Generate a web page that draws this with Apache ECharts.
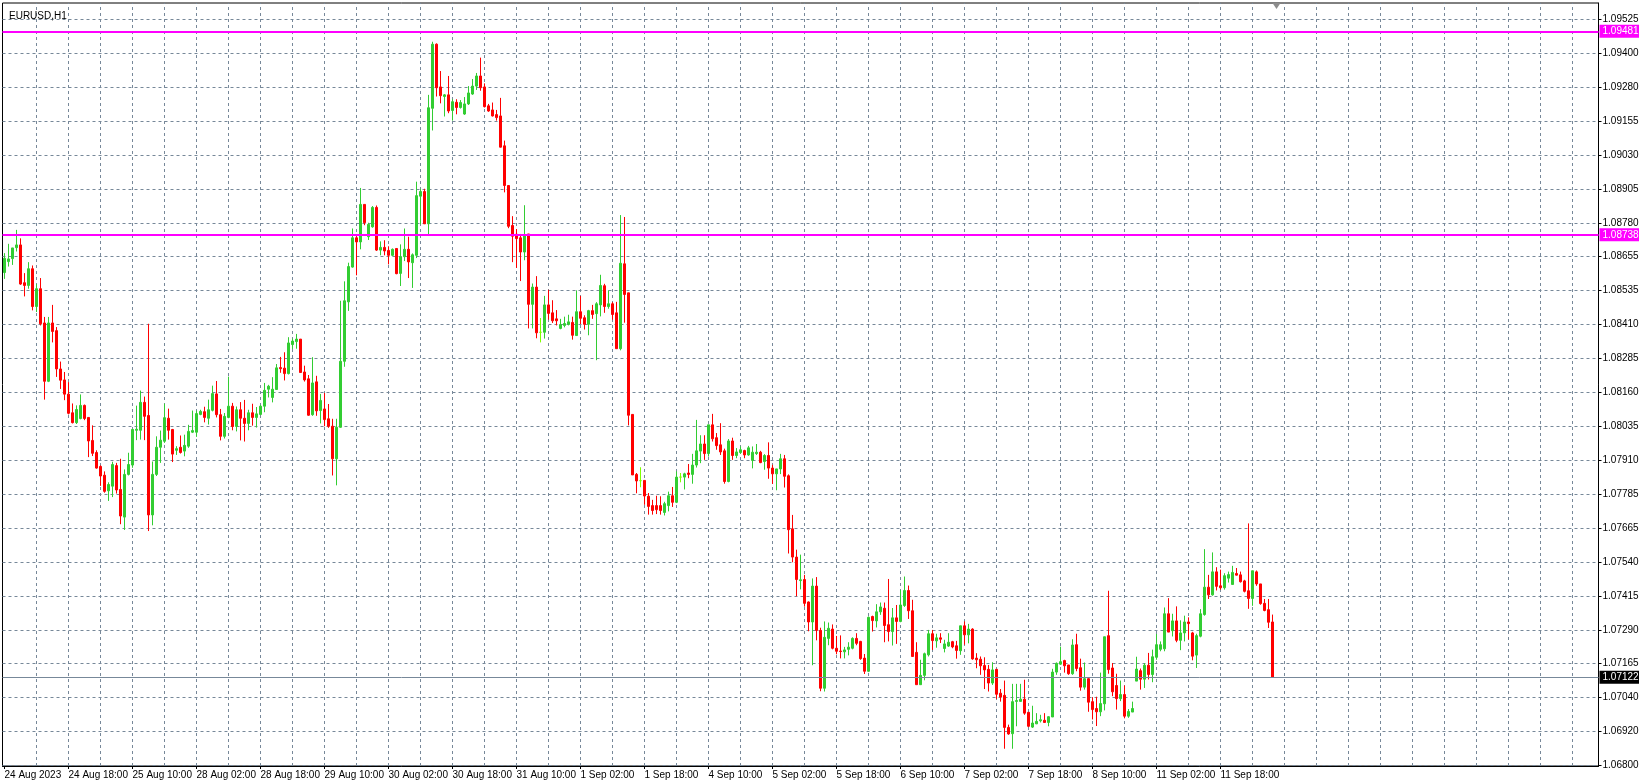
<!DOCTYPE html>
<html><head><meta charset="utf-8">
<script src="https://cdn.jsdelivr.net/npm/echarts@6/dist/echarts.min.js"></script>
<style>html,body{margin:0;padding:0;background:#fff}#c{width:1639px;height:784px}</style>
</head><body><div id="c"></div>
<script>
const chartTitle = 'EURUSD,H1';
const timeLabels = ['24 Aug 2023','24 Aug 18:00','25 Aug 10:00','28 Aug 02:00','28 Aug 18:00','29 Aug 10:00','30 Aug 02:00','30 Aug 18:00','31 Aug 10:00','1 Sep 02:00','1 Sep 18:00','4 Sep 10:00','5 Sep 02:00','5 Sep 18:00','6 Sep 10:00','7 Sep 02:00','7 Sep 18:00','8 Sep 10:00','11 Sep 02:00','11 Sep 18:00'];
const priceTicks = ['1.09525','1.09400','1.09280','1.09155','1.09030','1.08905','1.08780','1.08655','1.08535','1.08410','1.08285','1.08160','1.08035','1.07910','1.07785','1.07665','1.07540','1.07415','1.07290','1.07165','1.07040','1.06920','1.06800'];
const levelLines = [1.09481, 1.08738];
const bidPrice = 1.07122;

const opens = [1.08600,1.08640,1.08651,1.08691,1.08701,1.08563,1.08553,1.08614,1.08476,1.08541,
1.08416,1.08203,1.08416,1.08388,1.08248,1.08208,1.08156,1.08088,1.08052,1.08067,
1.08115,1.08071,1.07987,1.07943,1.07892,1.07860,1.07803,1.07820,1.07895,1.07808,
1.07707,1.07863,1.07897,1.08024,1.08024,1.08126,1.08078,1.07715,1.07863,1.07962,
1.07984,1.08068,1.08027,1.07951,1.07962,1.07948,1.07966,1.08017,1.08017,1.08082,
1.08092,1.08068,1.08097,1.08157,1.08081,1.08002,1.08071,1.08112,1.08038,1.08099,
1.08068,1.08049,1.08088,1.08071,1.08082,1.08112,1.08174,1.08144,1.08173,1.08253,
1.08251,1.08231,1.08337,1.08348,1.08357,1.08237,1.08212,1.08081,1.08201,1.08096,
1.08102,1.08066,1.08039,1.07920,1.08035,1.08276,1.08493,1.08620,1.08727,1.08712,
1.08849,1.08731,1.08767,1.08838,1.08682,1.08692,1.08681,1.08663,1.08688,1.08597,
1.08658,1.08685,1.08636,1.08663,1.08879,1.08896,1.08778,1.09200,1.09434,1.09278,
1.09243,1.09249,1.09192,1.09222,1.09203,1.09179,1.09216,1.09252,1.09281,1.09318,
1.09278,1.09209,1.09194,1.09177,1.09172,1.09063,1.08918,1.08772,1.08740,1.08727,
1.08675,1.08741,1.08484,1.08547,1.08382,1.08382,1.08482,1.08453,1.08431,1.08396,
1.08407,1.08411,1.08418,1.08370,1.08457,1.08435,1.08411,1.08461,1.08450,1.08482,
1.08552,1.08476,1.08486,1.08453,1.08322,1.08632,1.08526,1.08082,1.07863,1.07840,
1.07841,1.07783,1.07749,1.07749,1.07749,1.07724,1.07749,1.07785,1.07761,1.07853,
1.07853,1.07868,1.07863,1.07897,1.07948,1.07974,1.07939,1.08044,1.07997,1.07971,
1.07949,1.07837,1.07985,1.07932,1.07943,1.07950,1.07934,1.07914,1.07939,1.07944,
1.07910,1.07932,1.07886,1.07865,1.07883,1.07920,1.07858,1.07664,1.07561,1.07475,
1.07479,1.07397,1.07324,1.07455,1.07293,1.07082,1.07264,1.07298,1.07228,1.07218,
1.07215,1.07224,1.07228,1.07264,1.07253,1.07192,1.07144,1.07344,1.07328,1.07361,
1.07374,1.07314,1.07289,1.07339,1.07326,1.07384,1.07439,1.07365,1.07213,1.07095,
1.07129,1.07204,1.07281,1.07255,1.07266,1.07227,1.07236,1.07252,1.07237,1.07219,
1.07310,1.07277,1.07298,1.07192,1.07188,1.07165,1.07151,1.07101,1.07151,1.07064,
1.07056,1.06939,1.06916,1.07034,1.07034,1.07042,1.06994,1.06940,1.06952,1.06963,
1.06965,1.06957,1.06977,1.07141,1.07170,1.07183,1.07167,1.07135,1.07241,1.07157,
1.07086,1.07117,1.07033,1.07008,1.06996,1.07025,1.07274,1.07156,1.07092,1.07044,
1.07059,1.06980,1.06995,1.07108,1.07146,1.07115,1.07166,1.07132,1.07195,1.07224,
1.07226,1.07354,1.07292,1.07328,1.07257,1.07284,1.07324,1.07284,1.07203,1.07272,
1.07351,1.07451,1.07423,1.07507,1.07456,1.07449,1.07484,1.07461,1.07501,1.07496,
1.07474,1.07438,1.07410,1.07507,1.07463,1.07392,1.07369,1.07324];

const highs = [1.08671,1.08705,1.08690,1.08756,1.08725,1.08598,1.08638,1.08626,1.08558,1.08580,
1.08438,1.08438,1.08482,1.08401,1.08275,1.08237,1.08200,1.08122,1.08115,1.08155,
1.08118,1.08071,1.08042,1.07951,1.07896,1.07874,1.07834,1.07909,1.07905,1.07920,
1.07881,1.07942,1.08029,1.08114,1.08169,1.08147,1.08413,1.07910,1.08002,1.08023,
1.08121,1.08103,1.08029,1.07966,1.08005,1.08008,1.08044,1.08096,1.08096,1.08099,
1.08110,1.08136,1.08187,1.08204,1.08102,1.08087,1.08220,1.08124,1.08111,1.08127,
1.08135,1.08099,1.08121,1.08109,1.08117,1.08197,1.08190,1.08218,1.08266,1.08292,
1.08309,1.08364,1.08359,1.08376,1.08357,1.08260,1.08226,1.08291,1.08223,1.08157,
1.08160,1.08120,1.08066,1.08066,1.08497,1.08568,1.08636,1.08761,1.08733,1.08909,
1.08849,1.08782,1.08843,1.08845,1.08714,1.08718,1.08696,1.08688,1.08688,1.08703,
1.08761,1.08731,1.08670,1.08932,1.08906,1.08906,1.09249,1.09443,1.09437,1.09336,
1.09252,1.09318,1.09233,1.09233,1.09230,1.09241,1.09281,1.09307,1.09329,1.09385,
1.09291,1.09216,1.09221,1.09194,1.09238,1.09082,1.08918,1.08806,1.08759,1.08741,
1.08846,1.08741,1.08560,1.08587,1.08434,1.08515,1.08537,1.08499,1.08463,1.08431,
1.08439,1.08446,1.08439,1.08535,1.08515,1.08444,1.08464,1.08482,1.08492,1.08592,
1.08559,1.08535,1.08492,1.08493,1.08810,1.08803,1.08526,1.08082,1.07868,1.07889,
1.07841,1.07795,1.07770,1.07785,1.07783,1.07763,1.07800,1.07817,1.07874,1.07868,
1.07869,1.07901,1.07938,1.08062,1.08006,1.08006,1.08044,1.08084,1.08014,1.08050,
1.07957,1.07992,1.07997,1.07959,1.07965,1.07953,1.07967,1.07965,1.07974,1.07949,
1.07937,1.07980,1.07898,1.07883,1.07938,1.07934,1.07863,1.07715,1.07588,1.07570,
1.07496,1.07399,1.07483,1.07488,1.07303,1.07326,1.07322,1.07315,1.07273,1.07275,
1.07233,1.07250,1.07268,1.07283,1.07255,1.07207,1.07344,1.07347,1.07389,1.07395,
1.07395,1.07481,1.07375,1.07386,1.07441,1.07490,1.07457,1.07405,1.07250,1.07186,
1.07212,1.07295,1.07295,1.07281,1.07283,1.07259,1.07283,1.07255,1.07255,1.07310,
1.07326,1.07317,1.07301,1.07210,1.07198,1.07195,1.07167,1.07177,1.07151,1.07079,
1.07110,1.06949,1.07098,1.07098,1.07098,1.07113,1.06994,1.07018,1.06991,1.06985,
1.06991,1.06980,1.07153,1.07176,1.07234,1.07186,1.07167,1.07261,1.07281,1.07190,
1.07176,1.07117,1.07049,1.07051,1.07139,1.07270,1.07438,1.07174,1.07135,1.07110,
1.07092,1.07006,1.07033,1.07197,1.07154,1.07174,1.07211,1.07223,1.07280,1.07253,
1.07377,1.07411,1.07354,1.07381,1.07330,1.07347,1.07341,1.07288,1.07281,1.07371,
1.07590,1.07496,1.07578,1.07524,1.07515,1.07502,1.07508,1.07529,1.07521,1.07508,
1.07478,1.07684,1.07511,1.07512,1.07463,1.07408,1.07408,1.07351];

const lows = [1.08577,1.08622,1.08628,1.08677,1.08555,1.08513,1.08541,1.08462,1.08456,1.08407,
1.08136,1.08200,1.08345,1.08219,1.08175,1.08134,1.08082,1.08049,1.08047,1.08064,
1.08061,1.07926,1.07930,1.07884,1.07821,1.07796,1.07766,1.07780,1.07793,1.07681,
1.07660,1.07859,1.07887,1.07988,1.07990,1.07988,1.07656,1.07677,1.07857,1.07905,
1.07978,1.07990,1.07908,1.07934,1.07939,1.07929,1.07960,1.08014,1.08000,1.08079,
1.08053,1.08045,1.08093,1.08071,1.07987,1.07994,1.08068,1.08024,1.08020,1.07987,
1.07983,1.08024,1.08041,1.08034,1.08079,1.08090,1.08144,1.08126,1.08172,1.08234,
1.08206,1.08228,1.08321,1.08322,1.08235,1.08202,1.08077,1.08077,1.08077,1.08049,
1.08039,1.08033,1.07859,1.07823,1.08033,1.08256,1.08460,1.08618,1.08590,1.08685,
1.08773,1.08719,1.08764,1.08679,1.08663,1.08663,1.08630,1.08660,1.08594,1.08551,
1.08642,1.08580,1.08544,1.08653,1.08776,1.08778,1.08739,1.09119,1.09243,1.09218,
1.09170,1.09182,1.09155,1.09178,1.09199,1.09176,1.09212,1.09249,1.09267,1.09264,
1.09203,1.09187,1.09170,1.09155,1.09057,1.08893,1.08762,1.08638,1.08617,1.08569,
1.08645,1.08396,1.08396,1.08360,1.08345,1.08359,1.08428,1.08416,1.08407,1.08393,
1.08400,1.08407,1.08355,1.08370,1.08412,1.08392,1.08371,1.08431,1.08280,1.08440,
1.08453,1.08468,1.08428,1.08322,1.08316,1.08417,1.08042,1.07861,1.07794,1.07816,
1.07752,1.07716,1.07716,1.07718,1.07716,1.07713,1.07728,1.07744,1.07758,1.07834,
1.07808,1.07849,1.07829,1.07888,1.07904,1.07916,1.07928,1.07983,1.07953,1.07934,
1.07829,1.07834,1.07916,1.07922,1.07938,1.07922,1.07931,1.07885,1.07934,1.07904,
1.07880,1.07847,1.07828,1.07805,1.07864,1.07815,1.07574,1.07542,1.07418,1.07443,
1.07380,1.07290,1.07166,1.07257,1.07071,1.07070,1.07239,1.07224,1.07206,1.07191,
1.07191,1.07202,1.07224,1.07239,1.07186,1.07134,1.07141,1.07289,1.07304,1.07350,
1.07250,1.07253,1.07238,1.07244,1.07323,1.07379,1.07335,1.07198,1.07095,1.07095,
1.07111,1.07198,1.07222,1.07230,1.07247,1.07213,1.07233,1.07228,1.07190,1.07204,
1.07241,1.07246,1.07186,1.07155,1.07131,1.07079,1.07070,1.07094,1.07043,1.07033,
1.06861,1.06912,1.06861,1.06943,1.07033,1.06985,1.06940,1.06937,1.06951,1.06957,
1.06957,1.06943,1.06977,1.07131,1.07167,1.07139,1.07131,1.07131,1.07144,1.07073,
1.07077,1.06996,1.06968,1.06944,1.06980,1.07001,1.07135,1.07053,1.07004,1.07035,
1.06972,1.06974,1.06995,1.07108,1.07077,1.07083,1.07114,1.07104,1.07186,1.07217,
1.07217,1.07287,1.07271,1.07250,1.07221,1.07253,1.07260,1.07184,1.07156,1.07268,
1.07347,1.07408,1.07420,1.07439,1.07442,1.07442,1.07468,1.07461,1.07494,1.07468,
1.07432,1.07372,1.07383,1.07456,1.07387,1.07363,1.07302,1.07120];

const closes = [1.08652,1.08650,1.08690,1.08701,1.08558,1.08553,1.08614,1.08476,1.08541,1.08413,
1.08203,1.08416,1.08385,1.08248,1.08207,1.08156,1.08086,1.08052,1.08100,1.08115,
1.08067,1.07985,1.07940,1.07886,1.07857,1.07801,1.07826,1.07899,1.07806,1.07711,
1.07863,1.07899,1.08027,1.08028,1.08126,1.08075,1.07715,1.07863,1.07962,1.07988,
1.08070,1.08024,1.07937,1.07957,1.07943,1.07969,1.08020,1.08023,1.08085,1.08093,
1.08071,1.08099,1.08158,1.08081,1.08002,1.08075,1.08112,1.08038,1.08099,1.08068,
1.08049,1.08088,1.08071,1.08084,1.08112,1.08170,1.08185,1.08174,1.08252,1.08249,
1.08231,1.08343,1.08350,1.08357,1.08235,1.08208,1.08079,1.08197,1.08095,1.08133,
1.08063,1.08039,1.07920,1.08035,1.08276,1.08497,1.08622,1.08727,1.08712,1.08849,
1.08782,1.08776,1.08838,1.08682,1.08692,1.08679,1.08663,1.08685,1.08596,1.08658,
1.08685,1.08639,1.08665,1.08881,1.08896,1.08778,1.09202,1.09434,1.09275,1.09246,
1.09249,1.09190,1.09224,1.09203,1.09221,1.09216,1.09256,1.09281,1.09318,1.09275,
1.09206,1.09190,1.09172,1.09166,1.09058,1.08918,1.08769,1.08733,1.08724,1.08675,
1.08739,1.08484,1.08547,1.08380,1.08382,1.08482,1.08451,1.08424,1.08424,1.08410,
1.08414,1.08420,1.08371,1.08457,1.08433,1.08411,1.08461,1.08447,1.08486,1.08553,
1.08476,1.08486,1.08447,1.08322,1.08634,1.08520,1.08079,1.07861,1.07839,1.07840,
1.07784,1.07746,1.07731,1.07734,1.07731,1.07756,1.07785,1.07761,1.07853,1.07853,
1.07865,1.07863,1.07897,1.07949,1.07974,1.07939,1.08044,1.07993,1.07968,1.07945,
1.07837,1.07985,1.07932,1.07945,1.07953,1.07934,1.07960,1.07944,1.07944,1.07906,
1.07932,1.07886,1.07865,1.07883,1.07920,1.07856,1.07661,1.07561,1.07479,1.07478,
1.07392,1.07324,1.07455,1.07293,1.07082,1.07268,1.07301,1.07228,1.07217,1.07216,
1.07222,1.07232,1.07264,1.07246,1.07190,1.07144,1.07341,1.07329,1.07361,1.07379,
1.07311,1.07289,1.07339,1.07326,1.07386,1.07439,1.07365,1.07198,1.07095,1.07129,
1.07208,1.07281,1.07256,1.07266,1.07261,1.07244,1.07250,1.07233,1.07220,1.07310,
1.07277,1.07298,1.07189,1.07186,1.07164,1.07149,1.07101,1.07149,1.07060,1.07050,
1.06939,1.06915,1.07033,1.07037,1.07042,1.06991,1.06943,1.06955,1.06961,1.06967,
1.06957,1.06978,1.07141,1.07173,1.07179,1.07164,1.07135,1.07240,1.07154,1.07086,
1.07117,1.07031,1.07004,1.06996,1.07026,1.07270,1.07150,1.07069,1.07044,1.07059,
1.06980,1.06997,1.07008,1.07152,1.07115,1.07166,1.07132,1.07197,1.07241,1.07241,
1.07354,1.07287,1.07328,1.07257,1.07284,1.07324,1.07318,1.07199,1.07274,1.07354,
1.07451,1.07423,1.07507,1.07454,1.07449,1.07493,1.07497,1.07505,1.07495,1.07471,
1.07436,1.07410,1.07511,1.07463,1.07391,1.07366,1.07323,1.07122];

// ---- layout / style (not data) ----
const BULL = '#32CD32', BEAR = '#FF0000', DOJI = '#7FFF00', GRID = '#778899';
const FONT = 'Liberation Sans';
const totalSlots = 399;          // bar slots across the visible chart (incl. right shift space)
const yMax = 1.095845, yMin = 1.067980;
const gTop = Number(priceTicks[0]), gBot = Number(priceTicks[priceTicks.length - 1]);
const gStep = (gTop - gBot) / (priceTicks.length - 1);
const gridVals = priceTicks.map((_, k) => gTop - k * gStep);

const cats = Array.from({length: totalSlots}, (_, i) => String(i));
const candles = opens.map((o, i) => {
  const item = {value: [o, closes[i], lows[i], highs[i]]};
  if (o === closes[i]) item.itemStyle = {color: DOJI, color0: DOJI, borderColor: DOJI, borderColor0: DOJI};
  return item;
});
const vGrid = [];
for (let i = 8; i < totalSlots; i += 8) vGrid.push({xAxis: i});
const labelEvery = 16;
const showLabel = (i) => i % labelEvery === 0 && i / labelEvery < timeLabels.length;

function levelItem(v, lineCol, width, boxCol) {
  return {
    yAxis: v,
    lineStyle: {color: lineCol, width: width, type: 'solid'},
    label: {show: true, position: 'end', distance: 1, formatter: () => v.toFixed(5),
      backgroundColor: boxCol, color: '#fff', padding: [2, 3, 1, 3], fontSize: 10, fontFamily: FONT}
  };
}

const chart = echarts.init(document.getElementById('c'), null, {renderer: 'canvas'});
chart.setOption({
  animation: false,
  backgroundColor: '#fff',
  title: {text: chartTitle, left: 4, top: 6,
    textStyle: {fontSize: 10, fontWeight: 'normal', color: '#000', fontFamily: FONT}},
  grid: {left: 2.5, right: 40.5, top: 3, bottom: 18, show: true, borderColor: '#000', borderWidth: 1,
    backgroundColor: '#fff', containLabel: false, outerBoundsMode: 'none'},
  xAxis: {
    type: 'category', data: cats, boundaryGap: true,
    axisLine: {show: true, lineStyle: {color: '#000', width: 1}},
    axisTick: {show: true, alignWithLabel: true, interval: showLabel, length: 3, lineStyle: {color: '#000'}},
    axisLabel: {show: true, interval: showLabel, formatter: (v, i) => timeLabels[i / labelEvery] || '',
      align: 'left', color: '#000', fontSize: 10, fontFamily: FONT, margin: 4, hideOverlap: false},
    splitLine: {show: false}
  },
  yAxis: {
    type: 'value', position: 'right', min: yMin, max: yMax, scale: true,
    axisLine: {show: true, onZero: false, lineStyle: {color: '#000', width: 1}},
    axisTick: {show: true, customValues: gridVals, length: 3, lineStyle: {color: '#000'}},
    axisLabel: {show: true, customValues: gridVals, color: '#000', fontSize: 10, fontFamily: FONT, margin: 4,
      formatter: (v) => priceTicks[Math.round((gTop - v) / gStep)]},
    splitLine: {show: true, lineStyle: {color: GRID, width: 1, type: [3, 3]}}
  },
  series: [
    {
      type: 'line', data: [], silent: true,
      markLine: {silent: true, symbol: 'none', z: 1, animation: false, precision: 0, label: {show: false},
        lineStyle: {color: GRID, width: 1, type: [3, 3]}, data: vGrid}
    },
    {
      type: 'candlestick', data: candles, barWidth: 2, silent: true, z: 3,
      itemStyle: {color: BULL, color0: BEAR, borderColor: BULL, borderColor0: BEAR, borderWidth: 1},
      markLine: {silent: true, symbol: 'none', animation: false, z: 5, precision: 5,
        data: [
          levelItem(levelLines[0], '#FF00FF', 2, '#FF00FF'),
          levelItem(levelLines[1], '#FF00FF', 2, '#FF00FF'),
          levelItem(bidPrice, GRID, 1, '#000')
        ]},
      markPoint: {silent: true, animation: false,
        data: [{coord: [String(opens.length), yMax], symbol: 'triangle', symbolRotate: 180,
          symbolSize: [8, 6], symbolOffset: [0, 3], itemStyle: {color: '#8c8c8c'}, label: {show: false}}]}
    }
  ]
});
</script>
</body></html>
